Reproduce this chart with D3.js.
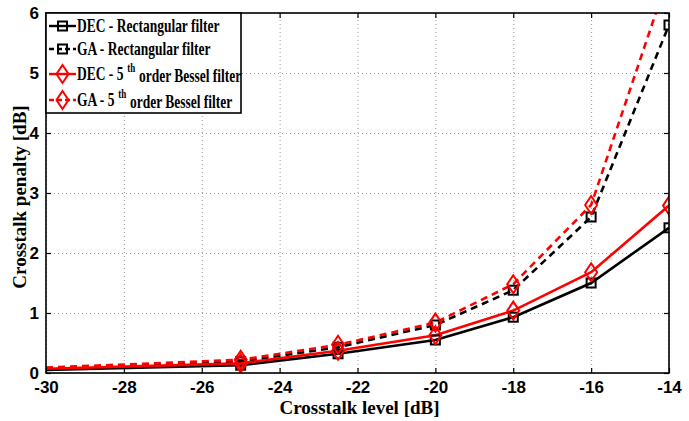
<!DOCTYPE html>
<html>
<head>
<meta charset="utf-8">
<script src="https://cdn.jsdelivr.net/npm/d3@7"></script>
<style>
  body { margin: 0; background: #fff; }
  svg text { font-family: "Liberation Serif", "Times New Roman", serif; font-weight: bold; }
  .tick text { font-family: "Liberation Sans", Arial, sans-serif; font-weight: bold; }
</style>
</head>
<body>
<svg id="chart" width="689" height="421"></svg>
<script>
// crosstalk level [dB]
const xLevels = [-30, -25, -22.5, -20, -18, -16, -14];
// crosstalk penalty [dB] per curve
const decRect = [0.05, 0.13, 0.32, 0.55, 0.93, 1.50, 2.42];
const gaRect = [0.08, 0.19, 0.43, 0.80, 1.38, 2.60, 5.80];
const decBessel = [0.07, 0.16, 0.37, 0.63, 1.04, 1.68, 2.79];
const gaBessel = [0.09, 0.22, 0.47, 0.84, 1.48, 2.80, 6.65];
const xTicks = [-30, -28, -26, -24, -22, -20, -18, -16, -14];
const yTicks = [0, 1, 2, 3, 4, 5, 6];

const series = [
  {name: "DEC - Rectangular filter", values: decRect, color: "#000", dash: null, marker: "square"},
  {name: "GA - Rectangular filter", values: gaRect, color: "#000", dash: "7,5", marker: "square"},
  {name: "DEC - 5", sup: "th", tail: "order Bessel filter", values: decBessel, color: "#f00", dash: null, marker: "diamond"},
  {name: "GA - 5", sup: "th", tail: "order Bessel filter", values: gaBessel, color: "#f00", dash: "7,5", marker: "diamond"},
];

const margin = {left: 46, right: 20, top: 13, bottom: 48};
const svg = d3.select("svg#chart");
const w = svg.attr("width") - margin.left - margin.right;
const h = svg.attr("height") - margin.top - margin.bottom;

const xScale = d3.scaleLinear().domain([-30, -14]).range([0, w]);
const yScale = d3.scaleLinear().domain([0, 6]).range([h, 0]);
const fmt = (d) => String(d);

const g = svg.append("g")
    .attr("transform", "translate(" + margin.left + "," + margin.top + ")");

svg.append("defs").append("clipPath").attr("id", "plotClip")
  .append("rect").attr("width", w).attr("height", h);

// dotted grid
g.append("g")
    .call(d3.axisLeft(yScale).tickValues(yTicks).tickSize(-w).tickFormat(""))
    .call((s) => s.select(".domain").remove())
    .selectAll("line")
    .attr("stroke", "#999")
    .attr("stroke-dasharray", "1,3");
g.append("g")
    .attr("transform", "translate(0," + h + ")")
    .call(d3.axisBottom(xScale).tickValues(xTicks).tickSize(-h).tickFormat(""))
    .call((s) => s.select(".domain").remove())
    .selectAll("line")
    .attr("stroke", "#999")
    .attr("stroke-dasharray", "1,3");

// lines
const line = d3.line()
    .x((d) => xScale(d[0]))
    .y((d) => yScale(d[1]));

const plot = g.append("g").attr("clip-path", "url(#plotClip)");
series.forEach((s) => {
  const pts = xLevels.map((x, i) => [x, s.values[i]]);
  plot.append("path")
      .datum(pts)
      .attr("fill", "none")
      .attr("stroke", s.color)
      .attr("stroke-width", 2.6)
      .attr("stroke-dasharray", s.dash)
      .attr("d", line);
});

function drawMarker(sel, type, color) {
  if (type == "square") {
    sel.append("rect")
        .attr("x", -4.5).attr("y", -4.5)
        .attr("width", 9).attr("height", 9)
        .attr("fill", "none").attr("stroke", color).attr("stroke-width", 2);
  } else {
    sel.append("path")
        .attr("d", "M0,-9L6,0L0,9L-6,0Z")
        .attr("fill", "none").attr("stroke", color).attr("stroke-width", 2);
  }
}

series.forEach((s) => {
  xLevels.forEach((x, i) => {
    if (i == 0 || s.values[i] > 6) return;
    const m = plot.append("g")
        .attr("transform", "translate(" + xScale(x) + "," + yScale(s.values[i]) + ")");
    drawMarker(m, s.marker, s.color);
  });
});

// axes with inward ticks, box
const axisStyle = (s) => {
  s.select(".domain").remove();
  s.selectAll("line").attr("stroke", "#000").attr("stroke-width", 1.2);
  s.selectAll("text").attr("font-size", 17).attr("fill", "#000");
};
g.append("g")
    .attr("transform", "translate(0," + h + ")")
    .call(d3.axisBottom(xScale).tickValues(xTicks).tickFormat(fmt)
        .tickSizeInner(-5).tickPadding(8))
    .call(axisStyle);
g.append("g")
    .call(d3.axisTop(xScale).tickValues(xTicks).tickSizeInner(-5).tickFormat(""))
    .call(axisStyle);
g.append("g")
    .call(d3.axisLeft(yScale).tickValues(yTicks).tickFormat(fmt)
        .tickSizeInner(-5).tickPadding(7))
    .call(axisStyle);
g.append("g")
    .attr("transform", "translate(" + w + ",0)")
    .call(d3.axisRight(yScale).tickValues(yTicks).tickSizeInner(-5).tickFormat(""))
    .call(axisStyle);
g.append("rect")
    .attr("width", w).attr("height", h)
    .attr("fill", "none").attr("stroke", "#000").attr("stroke-width", 1.6);

// axis labels
svg.append("text")
    .attr("x", margin.left + w / 2 + 2)
    .attr("y", 414)
    .attr("text-anchor", "middle")
    .attr("font-size", 19)
    .text("Crosstalk level [dB]");
svg.append("text")
    .attr("transform", "translate(26," + (margin.top + h / 2 + 4) + ") rotate(-90)")
    .attr("text-anchor", "middle")
    .attr("font-size", 19)
    .text("Crosstalk penalty [dB]");

// legend
const legend = g.append("g");
legend.append("rect")
    .attr("x", 0).attr("y", 0)
    .attr("width", 195).attr("height", 100)
    .attr("fill", "#fff").attr("stroke", "#000").attr("stroke-width", 1.6);
const rowY = [13, 36, 61, 87];
series.forEach((s, i) => {
  const row = legend.append("g").attr("transform", "translate(0," + rowY[i] + ")");
  row.append("line")
      .attr("x1", 3).attr("x2", 30)
      .attr("stroke", s.color).attr("stroke-width", 2.4)
      .attr("stroke-dasharray", s.dash ? "5,3" : null);
  drawMarker(row.append("g").attr("transform", "translate(16.5,0)"), s.marker, s.color);
  // the original legend font is a narrow Times, so squeeze it a bit
  const t = row.append("text")
      .attr("transform", "translate(31,6) scale(0.75,1)")
      .attr("font-size", 18)
      .text(s.name);
  if (s.sup) {
    t.append("tspan").attr("dx", 5).attr("dy", -8).attr("font-size", 12).text(s.sup);
    t.append("tspan").attr("dx", 5).attr("dy", 10).text(s.tail);
  }
});
</script>
</body>
</html>
